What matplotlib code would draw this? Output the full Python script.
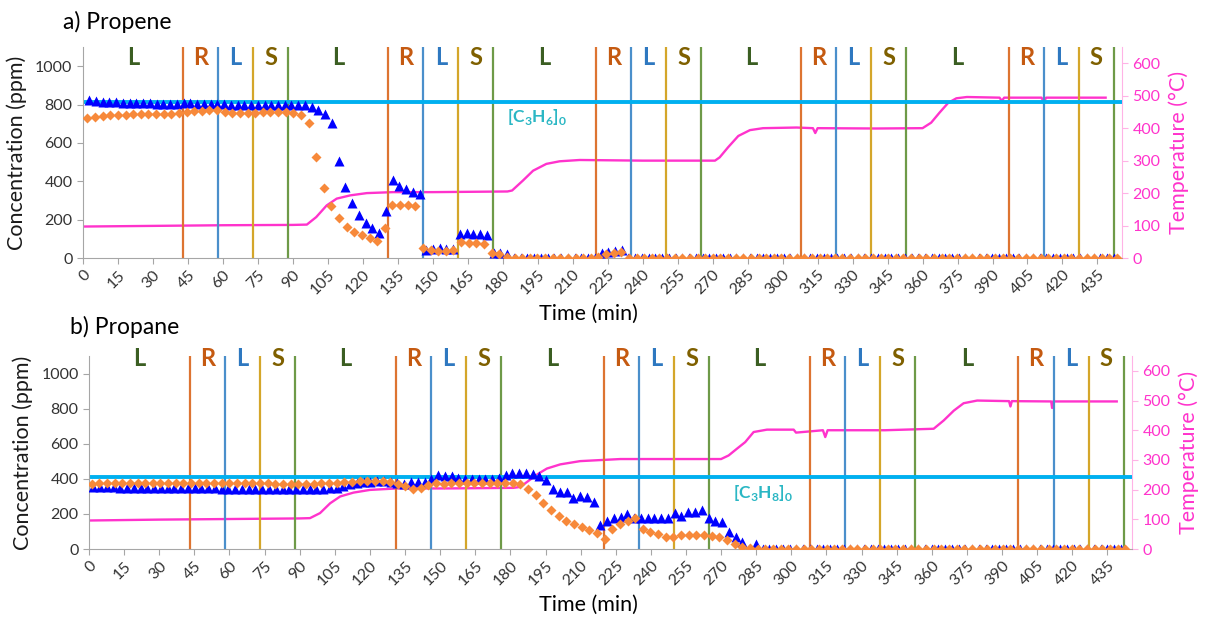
import numpy as np
import matplotlib
matplotlib.use('Agg')
import matplotlib.pyplot as plt
import matplotlib.transforms as mtransforms

plt.rcParams['font.family'] = ['Lato', 'DejaVu Sans']
plt.rcParams['mathtext.fontset'] = 'custom'
plt.rcParams['mathtext.rm'] = 'Lato'
plt.rcParams['mathtext.bf'] = 'Lato:bold'

# phase boundaries (min): R starts, L starts, S starts, S ends
r_start = [43, 131, 220, 308, 397]
l_start = [58, 146, 235, 323, 412]
s_start = [73, 161, 250, 338, 427]
s_end = [88, 176, 265, 353, 442]

# a) propene, blue triangles (ppm)
propene_tri = [822, 816, 815, 813, 812, 810, 808, 808, 806, 806, 805, 805, 804, 804, 806, 806, 805, 805, 804, 802,
               801, 800, 800, 800, 799, 799, 799, 800, 800,
               800, 800, 800, 800, 789, 770, 749, 702, 504, 370, 286, 225, 182, 155, 133, 243, 408, 377, 360, 342, 333,
               42, 45, 51, 48, 48, 126, 129, 126, 126, 120, 25, 25, 22,
               0, 0, 0, 0, 0, 0, 0, 0, 0, 0, 0, 0, 0,
               25, 30, 35, 40,
               0, 0, 0, 0, 0, 0, 0, 0, 0, 0, 0, 0, 0, 0, 0, 0, 0, 0, 0, 0,
               0, 0, 0, 0, 0, 0, 0, 0, 0, 0, 0, 0, 0, 0, 0, 0, 0, 0, 0, 0,
               0, 0, 0, 0, 0, 0, 0, 0, 0, 0, 0, 0, 0, 0, 0, 0, 0, 0, 0, 0,
               0, 0, 0, 0, 0, 0, 0, 0, 0, 0, 0, 0, 0]
# a) propene, orange diamonds (ppm)
propene_dia = [728, 735, 740, 745, 748, 748, 752, 752, 752, 752, 752, 750, 755, 760, 765, 768, 770, 770, 760, 756,
               756, 755, 756, 760, 762, 762,
               763, 757, 745, 705, 527, 365, 272, 208, 164, 138, 120, 105, 91, 155, 274, 277, 277, 272, 54, 42,
               35, 35, 40, 84, 80, 77, 74, 25, 22, 7,
               0, 0, 0, 0, 0, 0, 0, 0, 0, 0, 0,
               7, 20, 28, 33,
               0, 0, 0, 0, 0, 0, 0, 0, 0, 0, 0, 0, 0, 0, 0, 0, 0, 0, 0, 0,
               0, 0, 0, 0, 0, 0, 0, 0, 0, 0, 0, 0, 0, 0, 0, 0, 0, 0, 0, 0,
               0, 0, 0, 0, 0, 0, 0, 0, 0, 0, 0, 0, 0, 0, 0, 0, 0, 0, 0, 0,
               0, 0, 0, 0, 0]
# b) propane, blue triangles (ppm)
propane_tri = [355, 353, 352, 352, 350, 350, 349, 349, 348, 348, 347, 347, 347, 346, 346, 345, 345, 345, 345, 344,
               344, 344, 344, 343, 343, 343, 343, 343, 343, 343, 343, 343, 343, 343, 343, 345,
               348, 358, 368, 375, 380, 383, 385, 385, 382, 375, 369, 380, 382, 383, 401, 420, 416, 416, 405, 401,
               397, 397, 397, 397, 407, 420, 432, 432, 432, 430, 414, 395, 342, 323, 323, 290, 300, 297, 269, 136,
               159, 174, 185, 197, 174, 174, 178, 178, 178, 178, 204, 189, 212, 212, 220, 178, 159, 155, 99, 71,
               42, 0, 29,
               0, 0, 0, 0, 0, 0, 0, 0, 0, 0, 0, 0, 0, 0, 0, 0, 0, 0, 0, 0,
               0, 0, 0, 0, 0, 0, 0, 0, 0, 0, 0, 0, 0, 0, 0, 0, 0, 0, 0, 0,
               0, 0, 0, 0, 0, 0, 0, 0, 0, 0, 0, 0, 0, 0]
# b) propane, orange diamonds (ppm)
propane_dia = [372, 375, 376, 376, 377, 377, 377, 376, 376, 377, 377, 376, 376, 377, 376, 376, 375, 375, 376, 376,
               375, 375, 374, 374, 373,
               372, 372, 372, 372, 373, 374, 376, 378, 382, 384, 385, 385, 386, 388, 380, 368, 360, 344, 350, 362,
               374, 372, 374, 376, 375, 376, 375, 376, 374, 375, 374, 370, 342, 309, 262, 220, 189, 162, 143, 124,
               109, 90, 56, 113, 143, 162, 178, 113, 99, 84, 71, 67, 80, 80, 80, 80, 76, 71, 52, 29, 10, 4,
               0, 0, 0, 0, 0, 0, 0, 0, 0, 0, 0, 0, 0, 0, 0, 0, 0, 0, 0, 0,
               0, 0, 0, 0, 0, 0, 0, 0, 0, 0, 0, 0, 0, 0, 0, 0, 0, 0, 0, 0,
               0, 0, 0, 0, 0, 0, 0, 0, 0]

# sampling times: first and last injection (min)
propene_tri_t = np.linspace(2.7, 442, len(propene_tri))
propene_dia_t = np.linspace(1.9, 443.4, len(propene_dia))
propane_tri_t = np.linspace(1.8, 440.8, len(propane_tri))
propane_dia_t = np.linspace(1.1, 442.6, len(propane_dia))

# temperature traces (min, degC)
propene_temp_t = [0, 30, 60, 90, 96, 100, 104.5, 108.8, 114.6, 121.7, 133, 150, 182, 184, 188.7, 193, 198.7, 204.4,
                  213, 240, 271, 273, 276.6, 281, 286, 291.6, 306, 313, 314, 315, 340, 360, 363.7, 367.3, 371, 374.5,
                  379, 393, 394, 395, 411, 412, 413, 438.5]
propene_temp = [97, 99, 101, 102, 103, 126, 162, 183, 193, 200, 203, 203, 205, 208, 239, 269, 290, 298,
                302, 300, 300, 310, 341, 376, 394, 400, 402, 400, 385, 400, 399, 400, 417, 448, 478, 492,
                496, 494, 484, 494, 494, 481, 494, 494]
propane_temp_t = [0, 30, 60, 90, 94.4, 98.7, 103, 107.3, 113, 120, 131.5, 153, 181.3, 184.2, 188.5, 192, 195.6, 201.3,
                  209.8, 227, 270, 273.2, 276.8, 280.3, 283.9, 289.6, 301, 302, 313.5, 314.5, 315.5, 340, 360.8,
                  365.1, 369.4, 373.6, 379.4, 393, 393.6, 394.2, 411, 411.4, 411.8, 439]
propane_temp = [96, 99, 101, 103, 104, 121, 154, 177, 190, 199, 204, 204, 206, 209, 234, 254, 271, 285,
                296, 303, 303, 315, 338, 360, 394, 402, 402, 392, 400, 377, 400, 400, 405,
                433, 466, 491, 500, 498, 480, 498, 497, 475, 497, 497]

propene_c0 = 815
propane_c0 = 410

c_tri = '#0000FF'
c_dia = '#F7893A'
c_temp = '#FF33CC'
c_c0 = '#00B0F0'
line_cols = ['#DD7431', '#4A8FCB', '#D4A62A', '#6E9A48']
lab_green, lab_r, lab_blue, lab_s = '#3B5E22', '#C55A11', '#2E78C0', '#7F6000'

fig = plt.figure(figsize=(12.06, 6.17), dpi=100)


def panel(rect, tri_t, tri, dia_t, dia, temp_t, temp, c0, c0_txt, c0_xy, lab_y):
    ax = fig.add_axes(rect)
    ax2 = ax.twinx()
    ax.set_zorder(ax2.get_zorder() + 1)
    ax.patch.set_visible(False)

    for i in range(len(r_start)):
        for x, c in zip([r_start[i], l_start[i], s_start[i], s_end[i]], line_cols):
            ax.axvline(x, color=c, lw=1.6, zorder=1)
    ax.axhline(c0, color=c_c0, lw=2.8, zorder=2)
    ax.plot(tri_t, tri, '^', color=c_tri, ms=6.8, mec='none', zorder=3)
    ax.plot(dia_t, dia, 'D', color=c_dia, ms=5.4, mec='none', zorder=4)
    ax2.plot(temp_t, temp, '-', color=c_temp, lw=1.7)

    # phase letters
    tr = mtransforms.blended_transform_factory(ax.transData, ax.transAxes)
    prev = 0
    for i in range(len(r_start)):
        segs = [(prev, r_start[i], 'L', lab_green), (r_start[i], l_start[i], 'R', lab_r),
                (l_start[i], s_start[i], 'L', lab_blue), (s_start[i], s_end[i], 'S', lab_s)]
        for a, b, s, c in segs:
            ax.text((a + b) / 2, lab_y, s, transform=tr, color=c, fontsize=17, fontweight='bold',
                    ha='center', va='center')
        prev = s_end[i]

    ax.text(c0_xy[0], c0_xy[1], c0_txt, color='#2BB7C4', fontsize=12.5, fontweight='bold',
            ha='left', va='center')

    ax.set_xlim(0, 445.5)
    ax.set_ylim(0, 1100)
    ax2.set_ylim(0, 650)
    ax.set_xticks(np.arange(0, 436, 15))
    ax.set_xticklabels([str(v) for v in range(0, 436, 15)], rotation=45, ha='right',
                       rotation_mode='anchor')
    ax.set_yticks(np.arange(0, 1001, 200))
    ax2.set_yticks(np.arange(0, 601, 100))

    for s in ['top', 'right']:
        ax.spines[s].set_visible(False)
    for s in ['top', 'left', 'bottom']:
        ax2.spines[s].set_visible(False)
    ax.spines['left'].set_color('#A6A6A6')
    ax.spines['bottom'].set_color('#A6A6A6')
    ax2.spines['right'].set_color('#FFB3E6')
    ax.tick_params(axis='both', colors='#A6A6A6', labelcolor='#333333', labelsize=11.5, length=4)
    ax.tick_params(axis='x', pad=3)
    ax2.tick_params(axis='y', colors='#FFB3E6', labelcolor=c_temp, labelsize=11.5, length=4)
    ax.set_ylabel('Concentration (ppm)', fontsize=15.5, color='#1a1a1a', labelpad=6)
    ax2.set_ylabel('Temperature (°C)', fontsize=15.5, color=c_temp, labelpad=6)
    return ax


panel([0.0688, 0.5818, 0.8615, 0.3420], propene_tri_t, propene_tri, propene_dia_t, propene_dia,
      propene_temp_t, propene_temp, propene_c0, r'[C$_\mathbf{3}$H$_\mathbf{6}$]$_\mathbf{0}$', (182, 733), 0.949)
panel([0.0738, 0.1102, 0.8648, 0.3128], propane_tri_t, propane_tri, propane_dia_t, propane_dia,
      propane_temp_t, propane_temp, propane_c0, r'[C$_\mathbf{3}$H$_\mathbf{8}$]$_\mathbf{0}$', (275, 322), 0.988)

fig.text(0.052, 0.965, 'a) Propene', fontsize=16.5, va='center', ha='left')
fig.text(0.058, 0.47, 'b) Propane', fontsize=16.5, va='center', ha='left')
fig.text(0.488, 0.491, 'Time (min)', fontsize=15.5, va='center', ha='center')
fig.text(0.488, 0.019, 'Time (min)', fontsize=15.5, va='center', ha='center')

fig.savefig('out.png', dpi=100)
